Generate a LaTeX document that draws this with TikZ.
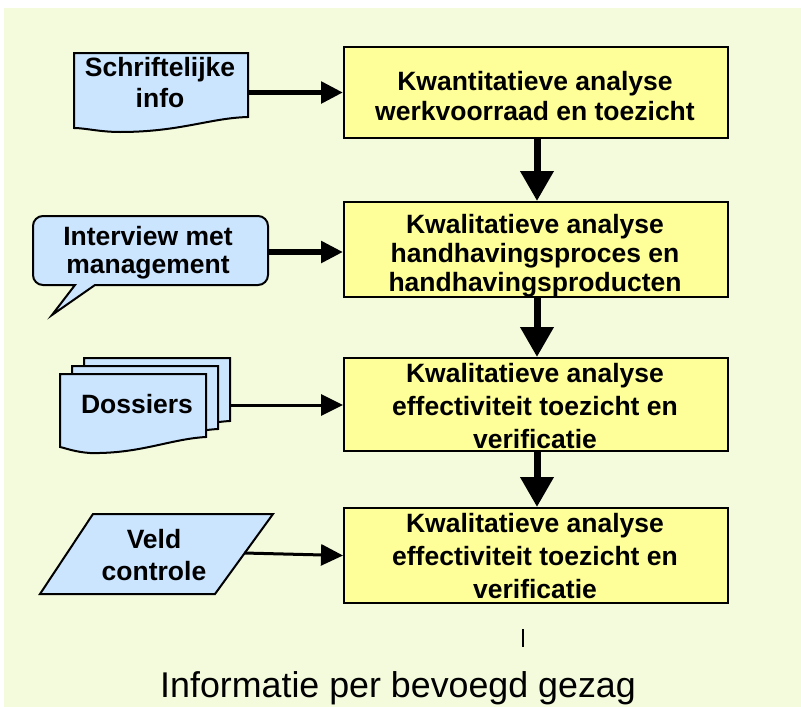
\documentclass[tikz,border=0pt]{standalone}
\usepackage{fontspec}
\setmainfont{Liberation Sans}
\usetikzlibrary{arrows.meta}
\definecolor{bgc}{RGB}{244,250,220}
\definecolor{boxc}{RGB}{255,255,153}
\definecolor{shapec}{RGB}{204,229,255}
\newcommand{\bxfont}[1]{\fontsize{26.5}{#1}\selectfont\bfseries}
\begin{document}
\begin{tikzpicture}[x=1pt,y=-1pt,
  procbox/.style={draw=black, line width=2pt, fill=boxc, minimum width=384pt, minimum height=#1, inner sep=0pt},
  boxtext/.style={align=center, inner sep=0pt, anchor=north, font=\bxfont{#1}},
  inshape/.style={draw=black, line width=2pt, fill=shapec, line join=miter},
  thickarrow/.style={line width=5.5pt, -{Triangle[length=22pt,width=21pt]}},
  thinarrow/.style={line width=3pt, -{Triangle[length=22pt,width=21pt]}},
  flowarrow/.style={line width=7pt, -{Triangle[length=30pt,width=32pt]}}
]
\useasboundingbox (0,0) rectangle (801,707);
\fill[white] (0,0) rectangle (801,707);
\fill[bgc] (4,8) rectangle (801,707);

% process boxes
\node[procbox=91pt] (b1) at (536,92.5) {};
\node[procbox=95pt] (b2) at (536,249.5) {};
\node[procbox=93pt] (b3) at (536,404.5) {};
\node[procbox=95pt] (b4) at (536,555.5) {};

% vertical flow arrows
\draw[flowarrow] ([xshift=1pt]b1.south) -- ([xshift=1pt]b2.north);
\draw[flowarrow] ([xshift=1pt]b2.south) -- ([xshift=1pt]b3.north);
\draw[flowarrow] ([xshift=1pt]b3.south) -- ([xshift=1pt]b4.north);

\node[boxtext=30pt] (t1) at (535,71) {Kwantitatieve analyse\\werkvoorraad en toezicht};
\node[boxtext=29pt] (t2) at (535,214.3) {Kwalitatieve analyse\\handhavingsproces en\\handhavingsproducten};
\node[boxtext=33pt] (t3) at (535,363) {Kwalitatieve analyse\\effectiviteit toezicht en\\verificatie};
\node[boxtext=33pt] (t4) at (535,513.3) {Kwalitatieve analyse\\effectiviteit toezicht en\\verificatie};

% document: Schriftelijke info
\draw[inshape] (74,53) -- (248,53) -- (248,117)
  .. controls (210,118) and (180,132) .. (120,132)
  .. controls (100,132) and (85,128) .. (74,128) -- cycle;
\coordinate (schr-e) at (248,92.5);
\node[boxtext=31pt] (s1) at (160,57.5) {Schriftelijke\\info};

% callout: Interview met management
\draw[inshape] (75,285) -- (52,315) -- (95,285) [rounded corners=10pt] -- (268,285) -- (268,216) -- (33,216) -- (33,285) [sharp corners] -- cycle;
\coordinate (int-e) at (268,252);
\node[boxtext=28pt] (s2) at (148,226) {Interview met\\management};

% multi-document: Dossiers
\foreach \dx/\dy in {24/-16,12/-8,0/0}{
  \begin{scope}[shift={(60+\dx,374+\dy)}]
    \draw[inshape] (0,0) -- (146,0) -- (146,63)
      .. controls (110,65) and (80,80) .. (30,79)
      .. controls (15,78) and (5,74) .. (0,73) -- cycle;
  \end{scope}
}
\coordinate (dos-e) at (230,405);
\node[inner sep=0pt, anchor=base, font=\bxfont{30pt}] (s3) at (137,413.3) {Dossiers};

% parallelogram: Veld controle
\draw[inshape] (93,514) -- (273,514) -- (215,594) -- (40,594) -- cycle;
\coordinate (veld-e) at (244,553);
\node[boxtext=32pt] (s4) at (154,529.3) {Veld\\controle};

% input arrows
\draw[thickarrow] (schr-e) -- (b1.west);
\draw[thickarrow] (int-e) -- (int-e -| b2.west);
\draw[thinarrow] (dos-e) -- (dos-e -| b3.west);
\draw[thinarrow] (veld-e) -- (b4.west);

% stray mark
\draw[line width=1.3pt] (523,629) -- (523,647);

% caption
\node[inner sep=0pt, anchor=base west, font=\fontsize{35.8}{40}\selectfont] (cap) at (160,697) {Informatie per bevoegd gezag};
\end{tikzpicture}
\end{document}
